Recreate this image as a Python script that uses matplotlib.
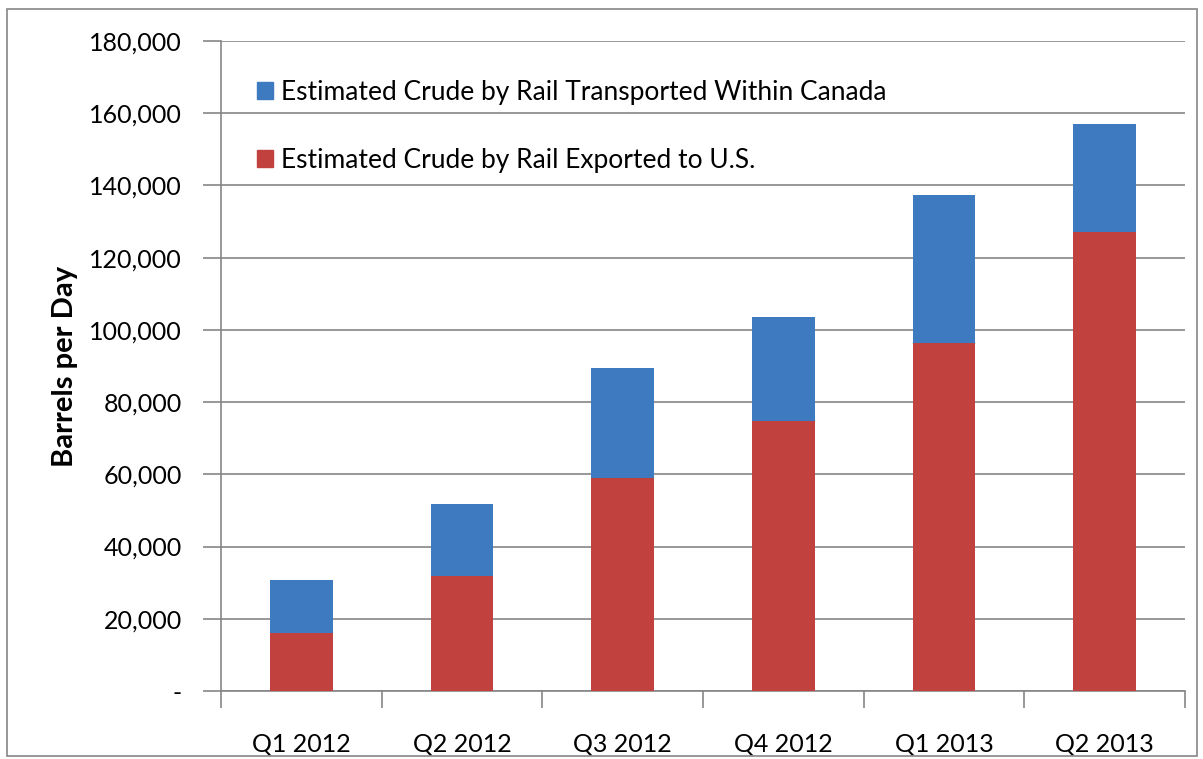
import matplotlib
matplotlib.use("Agg")
import matplotlib.pyplot as plt
from matplotlib.patches import Rectangle, Patch
from matplotlib.ticker import FuncFormatter
import numpy as np

plt.rcParams['font.family'] = ['Lato', 'DejaVu Sans']

# ---------------------------------------------------------------------------
# Data (barrels per day)
# ---------------------------------------------------------------------------
quarters = ['Q1 2012', 'Q2 2012', 'Q3 2012', 'Q4 2012', 'Q1 2013', 'Q2 2013']
exported_us = [16000, 31900, 59100, 74900, 96400, 127000]
within_canada_total = [30700, 51800, 89400, 103700, 137400, 157000]
within_canada = [t - e for t, e in zip(within_canada_total, exported_us)]

label_canada = 'Estimated Crude by Rail Transported Within Canada'
label_us = 'Estimated Crude by Rail Exported to U.S.'

BLUE = '#3E7AC0'
RED = '#C0413E'
AXIS = '#868686'

# ---------------------------------------------------------------------------
# Plot
# ---------------------------------------------------------------------------
fig = plt.figure(figsize=(12.03, 7.59), dpi=100)
ax = fig.add_axes([221 / 1203, 1 - 691 / 759, (1185 - 221) / 1203, (691 - 41) / 759])

x = np.arange(len(quarters))
ax.bar(x, exported_us, width=0.39, color=RED, zorder=3)
ax.bar(x, within_canada, width=0.39, bottom=exported_us, color=BLUE, zorder=3)

ax.set_xlim(-0.5, len(quarters) - 0.5)
ax.set_ylim(0, 180000)
ax.set_yticks(np.arange(0, 180001, 20000))
ax.yaxis.set_major_formatter(FuncFormatter(lambda v, _: '-' if v == 0 else f'{int(v):,}'))
ax.set_xticks(x)
ax.set_xticklabels(quarters)
ax.set_xticks(np.arange(-0.5, len(quarters), 1.0), minor=True)

ax.grid(axis='y', color=AXIS, linewidth=1.2, zorder=0)
for side in ['top', 'right']:
    ax.spines[side].set_visible(False)
for side in ['left', 'bottom']:
    ax.spines[side].set_color(AXIS)
    ax.spines[side].set_linewidth(1.2)

ax.tick_params(axis='y', length=13, width=1.2, color=AXIS, labelsize=18, pad=15)
ax.tick_params(axis='x', which='major', length=0, labelsize=18, pad=30)
ax.tick_params(axis='x', which='minor', length=12, width=1.2, color=AXIS)

ax.set_ylabel('Barrels per Day', fontsize=21, fontweight='bold', labelpad=8)

handles = [Patch(color=BLUE, label=label_canada), Patch(color=RED, label=label_us)]
ax.legend(handles=handles, loc='upper left', bbox_to_anchor=(0.018, 0.969),
          frameon=False, fontsize=19, handlelength=0.6, handleheight=0.6,
          handletextpad=0.3, labelspacing=1.64, borderpad=0.2)

# outer frame around the chart
fig.patches.append(Rectangle((7 / 1203, 1 - 756 / 759), 1190 / 1203, 747 / 759,
                             transform=fig.transFigure, fill=False,
                             edgecolor=AXIS, linewidth=1.2))

fig.savefig('out.png', dpi=100)
